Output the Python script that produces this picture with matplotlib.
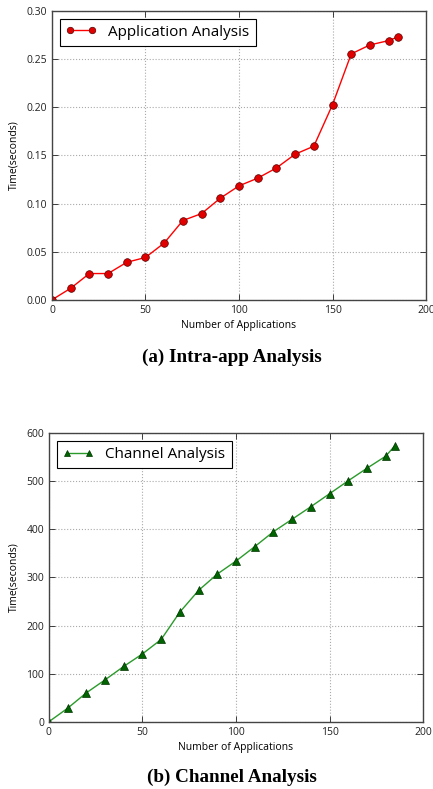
import matplotlib
matplotlib.use("Agg")
import matplotlib.pyplot as plt

apps = [0, 10, 20, 30, 40, 50, 60, 70, 80, 90, 100, 110, 120, 130, 140, 150, 160, 170, 180, 185]
app_time = [0.0, 0.012, 0.0273, 0.0273, 0.039, 0.044, 0.059, 0.0824, 0.0896, 0.1056, 0.1184,
            0.1264, 0.137, 0.1513, 0.1596, 0.2028, 0.2555, 0.2648, 0.2693, 0.2731]
chan_time = [0, 28, 60, 87, 115, 141, 171, 228, 273, 307, 334, 364, 395, 421, 447, 474,
             501, 527, 552, 574]

xticks = [0, 50, 100, 150, 200]
yticks_a = [0.00, 0.05, 0.10, 0.15, 0.20, 0.25, 0.30]
yticks_b = [0, 100, 200, 300, 400, 500, 600]

plt.rcParams['font.family'] = ['Open Sans', 'DejaVu Sans']

fig = plt.figure(figsize=(4.33, 7.89), dpi=100)
fig.patch.set_facecolor('white')

ax1 = fig.add_axes([0.120, 0.620, 0.864, 0.366])
ax2 = fig.add_axes([0.113, 0.0853, 0.864, 0.3657])


def style(ax):
    ax.grid(True, linestyle=':', color='#aaaaaa', linewidth=0.8)
    ax.set_axisbelow(True)
    ax.tick_params(direction='in', top=True, right=True, labelsize=7.5, length=4, width=0.6, colors='#222222')
    for s in ax.spines.values():
        s.set_color('#444444')
        s.set_linewidth(1.0)
    ax.set_xlim(0, 200)
    ax.set_xticks(xticks)
    ax.set_xlabel('Number of Applications', fontsize=7.5, labelpad=3)
    ax.set_ylabel('Time(seconds)', fontsize=7.5, labelpad=5)


ax1.plot(apps, app_time, color='red', linewidth=1.0, marker='o', markersize=5.5,
         markerfacecolor='#e00000', markeredgecolor='#550000', markeredgewidth=0.5,
         label='Application Analysis')
style(ax1)
ax1.set_ylim(0, 0.30)
ax1.set_yticks(yticks_a)
ax1.set_yticklabels(['%.2f' % v for v in yticks_a])
leg1 = ax1.legend(loc='upper left', fontsize=11, numpoints=2, fancybox=False, framealpha=1,
                  edgecolor='black', handlelength=2.0, borderpad=0.4, borderaxespad=0.5,
                  markerscale=0.85)
leg1.get_frame().set_linewidth(0.8)

ax2.plot(apps, chan_time, color='#2a9a2a', linewidth=1.0, marker='^', markersize=5.5,
         markerfacecolor='#006400', markeredgecolor='#003300', markeredgewidth=0.5,
         label='Channel Analysis')
style(ax2)
ax2.set_ylim(0, 600)
ax2.set_yticks(yticks_b)
leg2 = ax2.legend(loc='upper left', fontsize=11, numpoints=2, fancybox=False, framealpha=1,
                  edgecolor='black', handlelength=2.0, borderpad=0.4, borderaxespad=0.5,
                  markerscale=0.85)
leg2.get_frame().set_linewidth(0.8)

fig.text(0.535, 1 - 357 / 789, '(a) Intra-app Analysis', ha='center', va='center',
         fontsize=13.8, fontweight='bold', family=['Liberation Serif', 'DejaVu Serif'])
fig.text(0.535, 1 - 777 / 789, '(b) Channel Analysis', ha='center', va='center',
         fontsize=13.8, fontweight='bold', family=['Liberation Serif', 'DejaVu Serif'])

fig.savefig('out.png', dpi=100, facecolor='white')
